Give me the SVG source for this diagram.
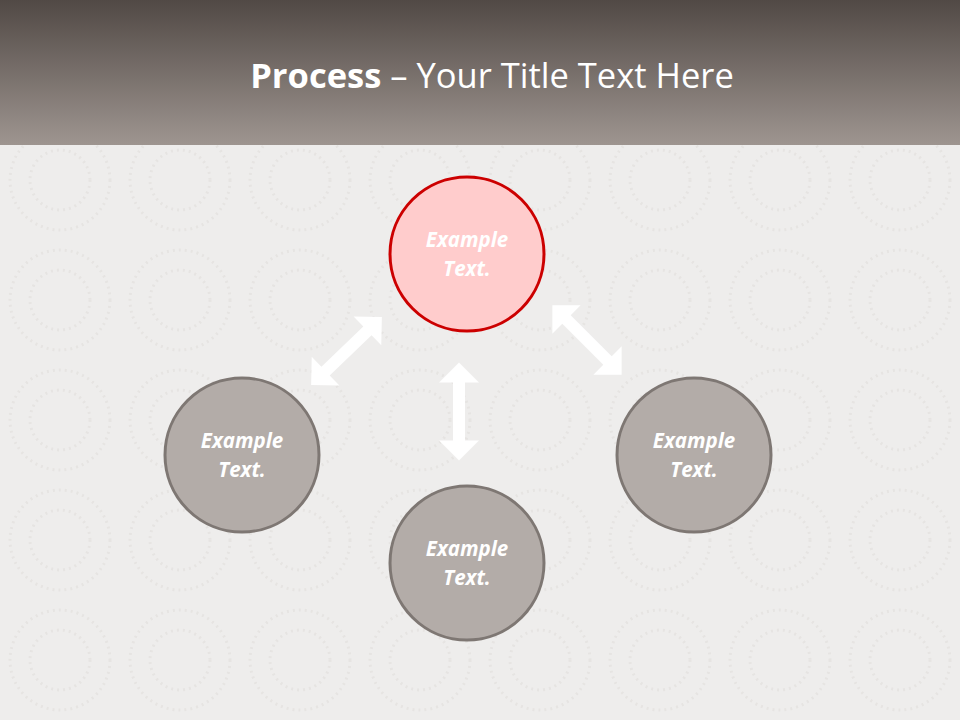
<svg xmlns="http://www.w3.org/2000/svg" width="960" height="720" viewBox="0 0 960 720">
<style>
.lbl{font-family:"Open Sans","Liberation Sans",sans-serif;font-size:20.5px;font-weight:bold;font-style:italic;fill:#ffffff;text-anchor:middle}
.gray{fill:#b3aca8;stroke:#7e7773;stroke-width:3}
.red{fill:#ffcccc;stroke:#cc0000;stroke-width:3}
.arr{fill:#ffffff}
</style>
<defs>
<linearGradient id="hdr" x1="0" y1="0" x2="0" y2="1">
<stop offset="0" stop-color="#514945"/>
<stop offset="1" stop-color="#9e9590"/>
</linearGradient>
<polygon id="dbl" points="-49,0 -29,-20 -29,-6 29,-6 29,-20 49,0 29,20 29,6 -29,6 -29,20"/>
<pattern id="tex" width="120" height="120" patternUnits="userSpaceOnUse">
<circle cx="60" cy="60" r="50" fill="none" stroke="#e6e4e2" stroke-width="3" stroke-dasharray="2 4"/>
<circle cx="60" cy="60" r="30" fill="none" stroke="#e6e4e2" stroke-width="3" stroke-dasharray="2 4"/>
</pattern>
</defs>
<rect x="0" y="0" width="960" height="720" fill="#eeedec"/>
<rect x="0" y="145" width="960" height="575" fill="url(#tex)"/>
<rect x="0" y="0" width="960" height="145" fill="url(#hdr)"/>
<text x="492" y="88" font-family="'Open Sans','Liberation Sans',sans-serif" font-size="34.5" fill="#ffffff" text-anchor="middle"><tspan font-weight="bold">Process</tspan> – Your Title Text Here</text>
<g id="connectors" class="arr">
<use href="#dbl" transform="translate(346.5,351) rotate(-43.8)"/>
<use href="#dbl" transform="translate(587,340) rotate(45)"/>
<use href="#dbl" transform="translate(459,411.5) rotate(90)"/>
</g>
<g id="node-top">
<circle class="red" cx="467" cy="254" r="77"/>
<text class="lbl" x="467" y="247">Example</text>
<text class="lbl" x="467" y="276">Text.</text>
</g>
<g id="node-left">
<circle class="gray" cx="242" cy="455" r="77"/>
<text class="lbl" x="242" y="448">Example</text>
<text class="lbl" x="242" y="477">Text.</text>
</g>
<g id="node-bottom">
<circle class="gray" cx="467" cy="563" r="77"/>
<text class="lbl" x="467" y="556">Example</text>
<text class="lbl" x="467" y="585">Text.</text>
</g>
<g id="node-right">
<circle class="gray" cx="694" cy="455" r="77"/>
<text class="lbl" x="694" y="448">Example</text>
<text class="lbl" x="694" y="477">Text.</text>
</g>
</svg>
